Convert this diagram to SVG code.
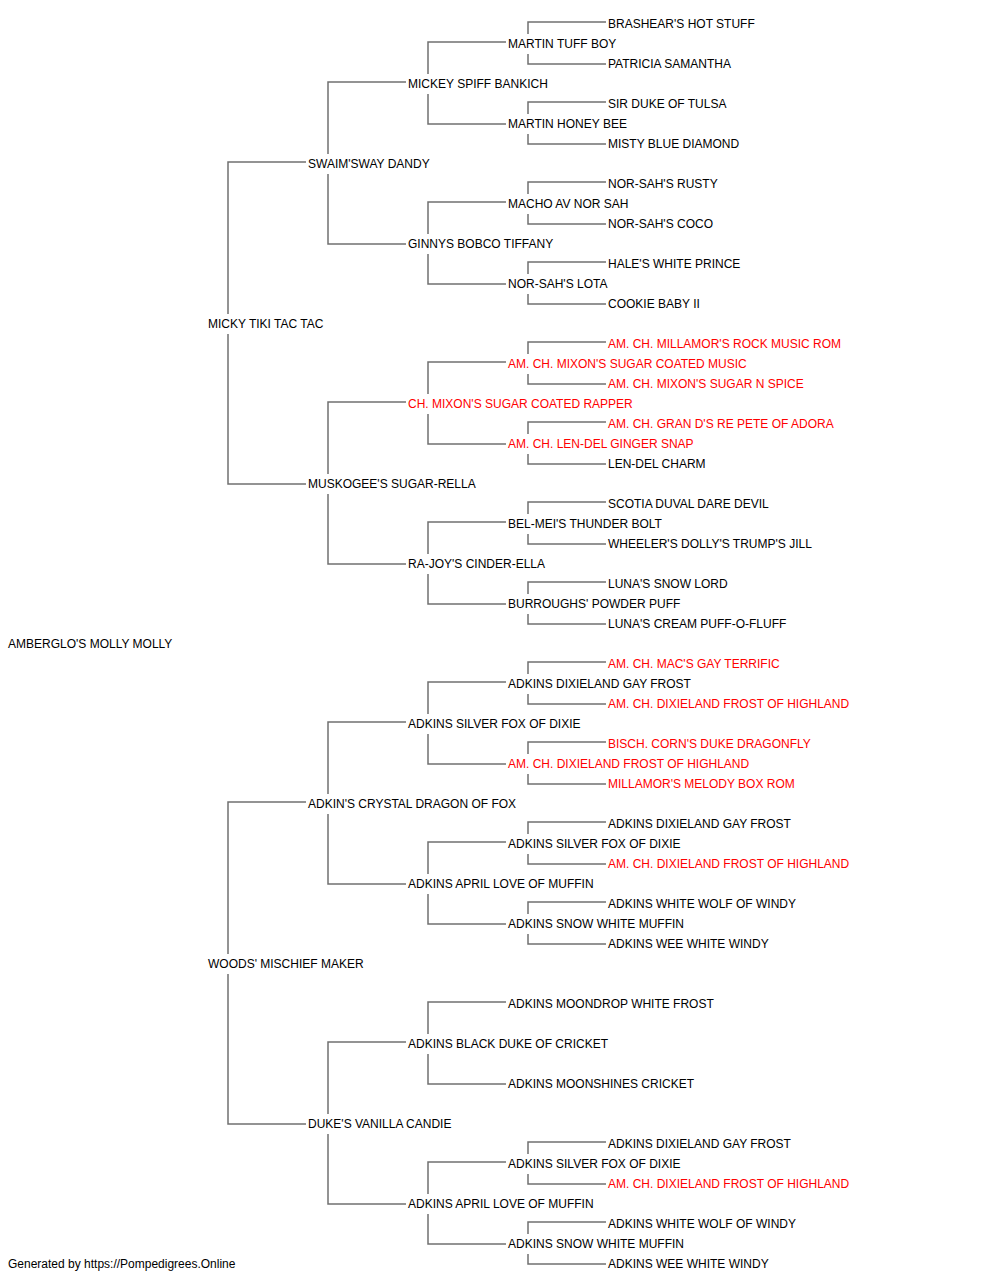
<svg xmlns="http://www.w3.org/2000/svg" width="1000" height="1280" viewBox="0 0 1000 1280">
<style>
text{font-family:"Liberation Sans",Arial,sans-serif;font-size:12px;fill:#000}
text.r{fill:#ff0000}
.c path{fill:none;stroke:#707070;stroke-width:1.5}
</style>
<rect x="0" y="0" width="1000" height="1280" fill="#fff"/>
<g class="c" id="connectors">
<path d="M306 162H228V314M228 334V484H306"/>
<path d="M306 802H228V954M228 974V1124H306"/>
<path d="M406 82H328V154M328 174V244H406"/>
<path d="M406 402H328V474M328 494V564H406"/>
<path d="M406 722H328V794M328 814V884H406"/>
<path d="M406 1042H328V1114M328 1134V1204H406"/>
<path d="M506 42H428V74M428 94V124H506"/>
<path d="M506 202H428V234M428 254V284H506"/>
<path d="M506 362H428V394M428 414V444H506"/>
<path d="M506 522H428V554M428 574V604H506"/>
<path d="M506 682H428V714M428 734V764H506"/>
<path d="M506 842H428V874M428 894V924H506"/>
<path d="M506 1002H428V1034M428 1054V1084H506"/>
<path d="M506 1162H428V1194M428 1214V1244H506"/>
<path d="M606 22H528V34M528 54V64H606"/>
<path d="M606 102H528V114M528 134V144H606"/>
<path d="M606 182H528V194M528 214V224H606"/>
<path d="M606 262H528V274M528 294V304H606"/>
<path d="M606 342H528V354M528 374V384H606"/>
<path d="M606 422H528V434M528 454V464H606"/>
<path d="M606 502H528V514M528 534V544H606"/>
<path d="M606 582H528V594M528 614V624H606"/>
<path d="M606 662H528V674M528 694V704H606"/>
<path d="M606 742H528V754M528 774V784H606"/>
<path d="M606 822H528V834M528 854V864H606"/>
<path d="M606 902H528V914M528 934V944H606"/>
<path d="M606 1142H528V1154M528 1174V1184H606"/>
<path d="M606 1222H528V1234M528 1254V1264H606"/>
</g>
<g id="n-root"><text x="8" y="648">AMBERGLO'S MOLLY MOLLY</text></g>
<g id="n-s"><text x="208" y="328">MICKY TIKI TAC TAC</text></g>
<g id="n-d"><text x="208" y="968">WOODS' MISCHIEF MAKER</text></g>
<g id="n-ss"><text x="308" y="168">SWAIM'SWAY DANDY</text></g>
<g id="n-sd"><text x="308" y="488">MUSKOGEE'S SUGAR-RELLA</text></g>
<g id="n-ds"><text x="308" y="808">ADKIN'S CRYSTAL DRAGON OF FOX</text></g>
<g id="n-dd"><text x="308" y="1128">DUKE'S VANILLA CANDIE</text></g>
<g id="n-sss"><text x="408" y="88">MICKEY SPIFF BANKICH</text></g>
<g id="n-ssd"><text x="408" y="248">GINNYS BOBCO TIFFANY</text></g>
<g id="n-sds"><text class="r" x="408" y="408">CH. MIXON'S SUGAR COATED RAPPER</text></g>
<g id="n-sdd"><text x="408" y="568">RA-JOY'S CINDER-ELLA</text></g>
<g id="n-dss"><text x="408" y="728">ADKINS SILVER FOX OF DIXIE</text></g>
<g id="n-dsd"><text x="408" y="888">ADKINS APRIL LOVE OF MUFFIN</text></g>
<g id="n-dds"><text x="408" y="1048">ADKINS BLACK DUKE OF CRICKET</text></g>
<g id="n-ddd"><text x="408" y="1208">ADKINS APRIL LOVE OF MUFFIN</text></g>
<g id="n-g4-1"><text x="508" y="48">MARTIN TUFF BOY</text></g>
<g id="n-g4-5"><text x="508" y="128">MARTIN HONEY BEE</text></g>
<g id="n-g4-9"><text x="508" y="208">MACHO AV NOR SAH</text></g>
<g id="n-g4-13"><text x="508" y="288">NOR-SAH'S LOTA</text></g>
<g id="n-g4-17"><text class="r" x="508" y="368">AM. CH. MIXON'S SUGAR COATED MUSIC</text></g>
<g id="n-g4-21"><text class="r" x="508" y="448">AM. CH. LEN-DEL GINGER SNAP</text></g>
<g id="n-g4-25"><text x="508" y="528">BEL-MEI'S THUNDER BOLT</text></g>
<g id="n-g4-29"><text x="508" y="608">BURROUGHS' POWDER PUFF</text></g>
<g id="n-g4-33"><text x="508" y="688">ADKINS DIXIELAND GAY FROST</text></g>
<g id="n-g4-37"><text class="r" x="508" y="768">AM. CH. DIXIELAND FROST OF HIGHLAND</text></g>
<g id="n-g4-41"><text x="508" y="848">ADKINS SILVER FOX OF DIXIE</text></g>
<g id="n-g4-45"><text x="508" y="928">ADKINS SNOW WHITE MUFFIN</text></g>
<g id="n-g4-49"><text x="508" y="1008">ADKINS MOONDROP WHITE FROST</text></g>
<g id="n-g4-53"><text x="508" y="1088">ADKINS MOONSHINES CRICKET</text></g>
<g id="n-g4-57"><text x="508" y="1168">ADKINS SILVER FOX OF DIXIE</text></g>
<g id="n-g4-61"><text x="508" y="1248">ADKINS SNOW WHITE MUFFIN</text></g>
<g id="n-g5-0"><text x="608" y="28">BRASHEAR'S HOT STUFF</text></g>
<g id="n-g5-2"><text x="608" y="68">PATRICIA SAMANTHA</text></g>
<g id="n-g5-4"><text x="608" y="108">SIR DUKE OF TULSA</text></g>
<g id="n-g5-6"><text x="608" y="148">MISTY BLUE DIAMOND</text></g>
<g id="n-g5-8"><text x="608" y="188">NOR-SAH'S RUSTY</text></g>
<g id="n-g5-10"><text x="608" y="228">NOR-SAH'S COCO</text></g>
<g id="n-g5-12"><text x="608" y="268">HALE'S WHITE PRINCE</text></g>
<g id="n-g5-14"><text x="608" y="308">COOKIE BABY II</text></g>
<g id="n-g5-16"><text class="r" x="608" y="348">AM. CH. MILLAMOR'S ROCK MUSIC ROM</text></g>
<g id="n-g5-18"><text class="r" x="608" y="388">AM. CH. MIXON'S SUGAR N SPICE</text></g>
<g id="n-g5-20"><text class="r" x="608" y="428">AM. CH. GRAN D'S RE PETE OF ADORA</text></g>
<g id="n-g5-22"><text x="608" y="468">LEN-DEL CHARM</text></g>
<g id="n-g5-24"><text x="608" y="508">SCOTIA DUVAL DARE DEVIL</text></g>
<g id="n-g5-26"><text x="608" y="548">WHEELER'S DOLLY'S TRUMP'S JILL</text></g>
<g id="n-g5-28"><text x="608" y="588">LUNA'S SNOW LORD</text></g>
<g id="n-g5-30"><text x="608" y="628">LUNA'S CREAM PUFF-O-FLUFF</text></g>
<g id="n-g5-32"><text class="r" x="608" y="668">AM. CH. MAC'S GAY TERRIFIC</text></g>
<g id="n-g5-34"><text class="r" x="608" y="708">AM. CH. DIXIELAND FROST OF HIGHLAND</text></g>
<g id="n-g5-36"><text class="r" x="608" y="748">BISCH. CORN'S DUKE DRAGONFLY</text></g>
<g id="n-g5-38"><text class="r" x="608" y="788">MILLAMOR'S MELODY BOX ROM</text></g>
<g id="n-g5-40"><text x="608" y="828">ADKINS DIXIELAND GAY FROST</text></g>
<g id="n-g5-42"><text class="r" x="608" y="868">AM. CH. DIXIELAND FROST OF HIGHLAND</text></g>
<g id="n-g5-44"><text x="608" y="908">ADKINS WHITE WOLF OF WINDY</text></g>
<g id="n-g5-46"><text x="608" y="948">ADKINS WEE WHITE WINDY</text></g>
<g id="n-g5-56"><text x="608" y="1148">ADKINS DIXIELAND GAY FROST</text></g>
<g id="n-g5-58"><text class="r" x="608" y="1188">AM. CH. DIXIELAND FROST OF HIGHLAND</text></g>
<g id="n-g5-60"><text x="608" y="1228">ADKINS WHITE WOLF OF WINDY</text></g>
<g id="n-g5-62"><text x="608" y="1268">ADKINS WEE WHITE WINDY</text></g>
<g id="footer"><text x="8" y="1268">Generated by https://Pompedigrees.Online</text></g>
</svg>
